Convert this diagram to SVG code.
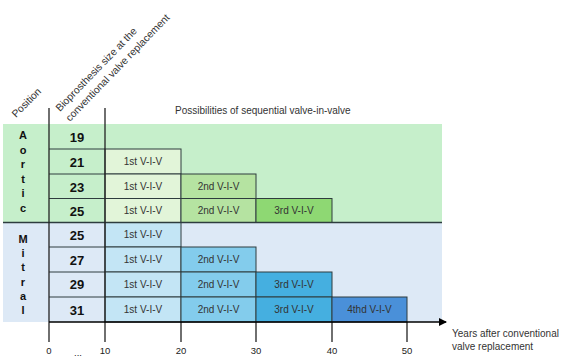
<svg xmlns="http://www.w3.org/2000/svg" width="567" height="359" viewBox="0 0 567 359">
<defs>
<style>
.t{font-family:"Liberation Sans",Arial,sans-serif;fill:#333;}
.lab{font-size:10px;text-anchor:middle;}
.num{font-size:13px;font-weight:bold;text-anchor:middle;fill:#111;}
.pos{font-size:11px;font-weight:bold;text-anchor:middle;fill:#111;}
.hdr{font-size:10.3px;fill:#333;}
.ax{font-size:9.5px;text-anchor:middle;fill:#222;}
.box{stroke:#2e3c3e;stroke-width:1;}
.a0{fill:#c6efcb;}.a1{fill:#e2f5d9;}.a2{fill:#b5e3a1;}.a3{fill:#8ed873;}
.m0{fill:#dde9f6;}.m1{fill:#c3e5f5;}.m2{fill:#83ccec;}.m3{fill:#45afe0;}.m4{fill:#4a90d9;}
</style>
<marker id="arr" markerWidth="8" markerHeight="8" refX="7" refY="4" orient="auto" markerUnits="userSpaceOnUse">
<path d="M0,0 L8,4 L0,8 Z" fill="#000"/>
</marker>
</defs>
<rect width="567" height="359" fill="#fff"/>

<g id="headers">
<text class="t hdr" transform="translate(16,118) rotate(-45)">Position</text>
<text class="t hdr" transform="translate(60,112) rotate(-46)">Bioprosthesis size at the</text>
<text class="t hdr" transform="translate(70,122) rotate(-46)">conventional valve replacement</text>
<text class="t" x="175" y="114" font-size="10">Possibilities of sequential valve-in-valve</text>
</g>

<g id="aortic-band">
<rect class="a0" x="3" y="124" width="439" height="98.5"/>
<g class="t pos">
<text x="23" y="139">A</text>
<text x="23" y="153.5">o</text>
<text x="23" y="168">r</text>
<text x="23" y="182.5">t</text>
<text x="23" y="197">i</text>
<text x="23" y="211.5">c</text>
</g>
</g>
<g id="mitral-band">
<rect class="m0" x="3" y="222.5" width="439" height="99.5"/>
<g class="t pos">
<text x="23" y="243">M</text>
<text x="23" y="257">i</text>
<text x="23" y="271">t</text>
<text x="23" y="285.5">r</text>
<text x="23" y="300">a</text>
<text x="23" y="314">l</text>
</g>
</g>

<g id="aortic-rows">
<g id="a19"><text class="t num" x="77" y="142">19</text></g>
<g id="a21">
<line class="box" x1="49" y1="149" x2="105" y2="149"/>
<text class="t num" x="77" y="167">21</text>
<rect class="box a1" x="105" y="149" width="76" height="25"/>
<text class="t lab" x="143" y="165">1st V-I-V</text>
</g>
<g id="a23">
<line class="box" x1="49" y1="174" x2="105" y2="174"/>
<text class="t num" x="77" y="191.5">23</text>
<rect class="box a1" x="105" y="174" width="76" height="24.5"/>
<text class="t lab" x="143" y="189.5">1st V-I-V</text>
<rect class="box a2" x="181" y="174" width="75" height="24.5"/>
<text class="t lab" x="218.5" y="189.5">2nd V-I-V</text>
</g>
<g id="a25">
<line class="box" x1="49" y1="198.5" x2="105" y2="198.5"/>
<text class="t num" x="77" y="215.5">25</text>
<rect class="box a1" x="105" y="198.5" width="76" height="24"/>
<text class="t lab" x="143" y="213.5">1st V-I-V</text>
<rect class="box a2" x="181" y="198.5" width="75" height="24"/>
<text class="t lab" x="218.5" y="213.5">2nd V-I-V</text>
<rect class="box a3" x="256" y="198.5" width="76" height="24"/>
<text class="t lab" x="294" y="213.5">3rd V-I-V</text>
</g>
</g>

<g id="mitral-rows">
<g id="m25">
<text class="t num" x="77" y="240">25</text>
<rect class="box m1" x="105" y="222.5" width="76" height="24.5"/>
<text class="t lab" x="143" y="238">1st V-I-V</text>
</g>
<g id="m27">
<line class="box" x1="49" y1="247" x2="105" y2="247"/>
<text class="t num" x="77" y="264.5">27</text>
<rect class="box m1" x="105" y="247" width="76" height="25"/>
<text class="t lab" x="143" y="263">1st V-I-V</text>
<rect class="box m2" x="181" y="247" width="75" height="25"/>
<text class="t lab" x="218.5" y="263">2nd V-I-V</text>
</g>
<g id="m29">
<line class="box" x1="49" y1="272" x2="105" y2="272"/>
<text class="t num" x="77" y="289">29</text>
<rect class="box m1" x="105" y="272" width="76" height="25"/>
<text class="t lab" x="143" y="288">1st V-I-V</text>
<rect class="box m2" x="181" y="272" width="75" height="25"/>
<text class="t lab" x="218.5" y="288">2nd V-I-V</text>
<rect class="box m3" x="256" y="272" width="76" height="25"/>
<text class="t lab" x="294" y="288">3rd V-I-V</text>
</g>
<g id="m31">
<line class="box" x1="49" y1="297" x2="105" y2="297"/>
<text class="t num" x="77" y="315">31</text>
<rect class="box m1" x="105" y="297" width="76" height="25"/>
<text class="t lab" x="143" y="313">1st V-I-V</text>
<rect class="box m2" x="181" y="297" width="75" height="25"/>
<text class="t lab" x="218.5" y="313">2nd V-I-V</text>
<rect class="box m3" x="256" y="297" width="76" height="25"/>
<text class="t lab" x="294" y="313">3rd V-I-V</text>
<rect class="box m4" x="332" y="297" width="75" height="25"/>
<text class="t lab" x="369.5" y="313">4thd V-I-V</text>
</g>
</g>

<g id="connectors" stroke="#222" fill="none">
<line x1="3" y1="222.5" x2="442" y2="222.5" stroke="#2e3c3e" stroke-width="1.5"/>
<line x1="49" y1="108" x2="49" y2="342" stroke-width="1.3"/>
<line x1="105" y1="108" x2="105" y2="342" stroke-width="1.3"/>
<line x1="181" y1="322" x2="181" y2="342" stroke-width="1.3"/>
<line x1="256" y1="322" x2="256" y2="342" stroke-width="1.3"/>
<line x1="332" y1="322" x2="332" y2="342" stroke-width="1.3"/>
<line x1="407" y1="322" x2="407" y2="342" stroke-width="1.3"/>
<line x1="49" y1="322" x2="446" y2="322" stroke="#000" stroke-width="1.5" marker-end="url(#arr)"/>
</g>

<g id="axis-labels" class="t ax">
<text x="49" y="354">0</text>
<text x="78" y="356">...</text>
<text x="105" y="354">10</text>
<text x="181" y="354">20</text>
<text x="256" y="354">30</text>
<text x="332" y="354">40</text>
<text x="407" y="354">50</text>
</g>
<g id="axis-title" class="t" font-size="10">
<text x="452" y="337">Years after conventional</text>
<text x="452" y="350">valve replacement</text>
</g>
</svg>
